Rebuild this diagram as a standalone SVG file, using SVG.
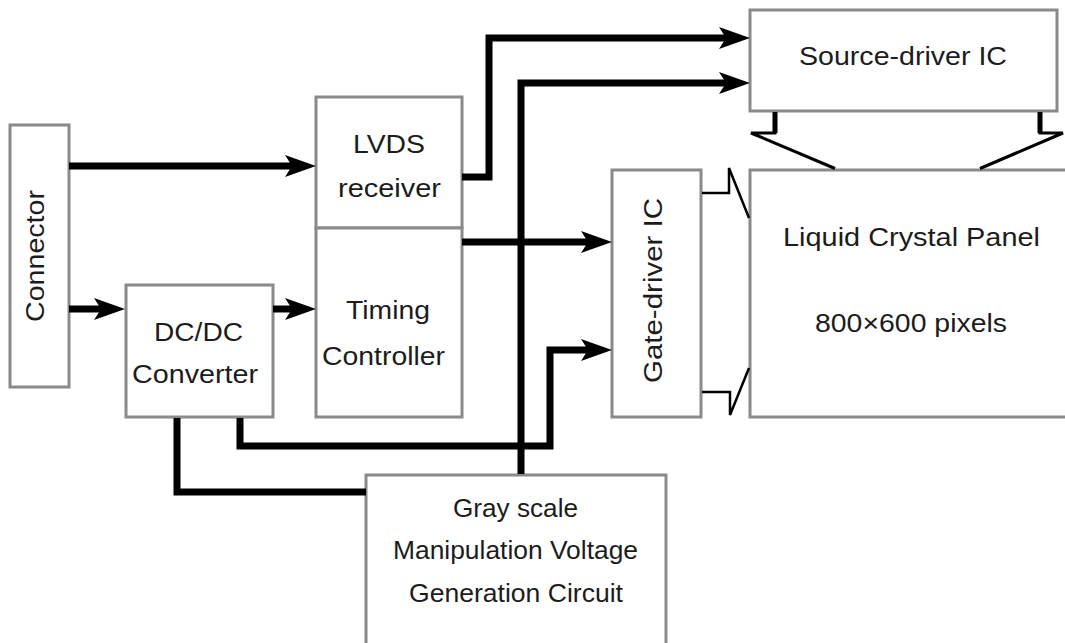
<svg xmlns="http://www.w3.org/2000/svg" width="1065" height="643" viewBox="0 0 1065 643">
<style>
.box{fill:#fff;stroke:#8a8a8a;stroke-width:3}
.t{font-family:"Liberation Sans",Arial,sans-serif;font-size:26px;fill:#1c1c1c;lengthAdjust:spacingAndGlyphs}
.w{fill:none;stroke:#000;stroke-width:7;stroke-linejoin:miter;stroke-linecap:butt}
.th{fill:none;stroke:#000;stroke-width:3;stroke-linejoin:miter}
</style>
<defs>
<marker id="ah" markerUnits="userSpaceOnUse" viewBox="-12 -12 34 24" refX="0" refY="0" markerWidth="34" markerHeight="24" orient="auto">
<path d="M20,0 L-11,-11 L-4,0 L-11,11 Z" fill="#000"/>
</marker>
</defs>
<rect width="1065" height="643" fill="#fff"/>
<g id="connector"><rect class="box" x="10" y="125" width="59" height="262"/>
<text class="t" transform="translate(44,322) rotate(-90)" textLength="132" lengthAdjust="spacingAndGlyphs">Connector</text></g>
<g id="lvds"><rect class="box" x="316" y="97" width="146" height="131"/>
<text class="t" x="353" y="153" textLength="72" lengthAdjust="spacingAndGlyphs">LVDS</text>
<text class="t" x="338" y="197" textLength="103" lengthAdjust="spacingAndGlyphs">receiver</text></g>
<g id="timing"><rect class="box" x="316" y="228" width="146" height="189"/>
<text class="t" x="346" y="319" textLength="84" lengthAdjust="spacingAndGlyphs">Timing</text>
<text class="t" x="322" y="365" textLength="123" lengthAdjust="spacingAndGlyphs">Controller</text></g>
<g id="dcdc"><rect class="box" x="126" y="285" width="147" height="132"/>
<text class="t" x="154" y="341" textLength="89" lengthAdjust="spacingAndGlyphs">DC/DC</text>
<text class="t" x="132" y="383" textLength="126" lengthAdjust="spacingAndGlyphs">Converter</text></g>
<g id="gate"><rect class="box" x="612" y="170" width="89" height="247"/>
<text class="t" transform="translate(662,383) rotate(-90)" textLength="185" lengthAdjust="spacingAndGlyphs">Gate-driver IC</text></g>
<g id="source"><rect class="box" x="750" y="10" width="307" height="101"/>
<text class="t" x="799" y="65" textLength="208" lengthAdjust="spacingAndGlyphs">Source-driver IC</text></g>
<g id="panel"><rect class="box" x="750" y="170" width="320" height="247"/>
<text class="t" x="783" y="246" textLength="257" lengthAdjust="spacingAndGlyphs">Liquid Crystal Panel</text>
<text class="t" x="815" y="332" textLength="192" lengthAdjust="spacingAndGlyphs">800×600 pixels</text></g>
<g id="grayscale"><rect class="box" x="366" y="475" width="300" height="180"/>
<text class="t" x="453" y="517" textLength="125" lengthAdjust="spacingAndGlyphs">Gray scale</text>
<text class="t" x="393" y="559" textLength="245" lengthAdjust="spacingAndGlyphs">Manipulation Voltage</text>
<text class="t" x="409" y="602" textLength="214" lengthAdjust="spacingAndGlyphs">Generation Circuit</text></g>
<g id="connectors">
<path class="w" d="M69,166 H296" marker-end="url(#ah)"/>
<path class="w" d="M69,309 H105" marker-end="url(#ah)"/>
<path class="w" d="M273,309 H296" marker-end="url(#ah)"/>
<path class="w" d="M462,177 H489 V38 H730" marker-end="url(#ah)"/>
<path class="w" d="M521,474 V83 H730" marker-end="url(#ah)"/>
<path class="w" d="M462,242 H592" marker-end="url(#ah)"/>
<path class="w" d="M240,418 V446 H550 V350 H592" marker-end="url(#ah)"/>
<path class="w" d="M177,418 V492 H366"/>
<path class="th" d="M775,112 V133 H751 L835,168.5"/>
<path class="th" d="M1040,112 V133 H1063 L980,168.5"/>
<path class="th" style="stroke-width:5" d="M775,112 V133 M1040,112 V133"/>
<path class="th" style="stroke-width:2.5" d="M702,193 H729 V168 L749,218"/>
<path class="th" style="stroke-width:2.5" d="M702,392 H730 V415 L749,368"/>
</g>
</svg>
